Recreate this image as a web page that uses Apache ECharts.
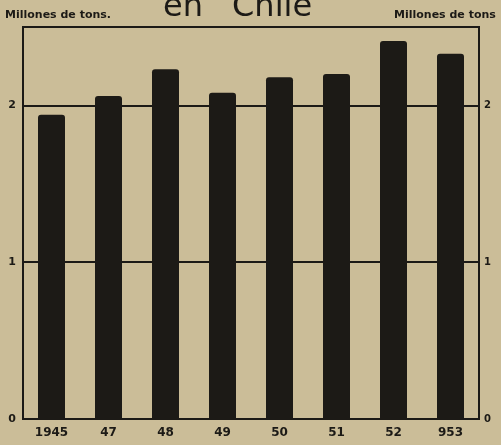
<!DOCTYPE html>
<html>
<head>
<meta charset="utf-8">
<script src="https://cdn.jsdelivr.net/npm/echarts@6/dist/echarts.min.js"></script>
<style>
  html, body { margin: 0; padding: 0; background: #cbbd98; }
  #chart { width: 501px; height: 445px; }
</style>
</head>
<body>
<div id="chart"></div>
<script>
const years = ['1945', '47', '48', '49', '50', '51', '52', '953']
const production = [1.94, 2.06, 2.23, 2.08, 2.18, 2.20, 2.41, 2.33]
const yTicks = [0, 1, 2]

const ink = '#1c1a16'

const chart = echarts.init(document.getElementById('chart'))

chart.setOption({
  backgroundColor: '#cbbd98',
  animation: false,
  graphic: [
    {
      type: 'text', left: 163, top: -8,
      style: { text: 'en', font: '32px "DejaVu Sans"', fill: ink }
    },
    {
      type: 'text', left: 232, top: -8,
      style: { text: 'Chile', font: '32px "DejaVu Sans"', fill: ink }
    },
    {
      type: 'text', left: 5, top: 10,
      style: { text: 'Millones de tons.', font: 'bold 11px "DejaVu Sans"', fill: ink }
    },
    {
      type: 'text', left: 394, top: 10,
      style: { text: 'Millones de tons', font: 'bold 11px "DejaVu Sans"', fill: ink }
    }
  ],
  grid: {
    left: 23,
    right: 22,
    top: 27,
    bottom: 26,
    show: true,
    borderColor: ink,
    borderWidth: 2
  },
  xAxis: {
    type: 'category',
    data: years,
    axisLine: { show: false },
    axisTick: { show: false },
    axisLabel: {
      color: ink,
      fontWeight: 'bold',
      fontSize: 12,
      fontFamily: 'DejaVu Sans',
      margin: 8
    }
  },
  yAxis: [
    {
      type: 'value',
      min: 0,
      max: 2.5,
      interval: 1,
      axisLine: { show: false },
      axisTick: { show: false },
      splitLine: { lineStyle: { color: ink, width: 2 } },
      axisLabel: {
        color: ink,
        fontWeight: 'bold',
        fontSize: 11,
        fontFamily: 'DejaVu Sans',
        margin: 7,
        formatter: (v) => (yTicks.includes(v) ? String(v) : '')
      }
    },
    {
      type: 'value',
      min: 0,
      max: 2.5,
      interval: 1,
      position: 'right',
      axisLine: { show: false },
      axisTick: { show: false },
      splitLine: { show: false },
      axisLabel: {
        color: ink,
        fontWeight: 'bold',
        fontSize: 10,
        fontFamily: 'DejaVu Sans',
        margin: 5,
        formatter: (v) => (yTicks.includes(v) ? String(v) : '')
      }
    }
  ],
  series: [
    {
      type: 'bar',
      data: production,
      barWidth: 27,
      itemStyle: { color: ink, borderRadius: [3, 3, 0, 0] }
    }
  ]
})
</script>
</body>
</html>
